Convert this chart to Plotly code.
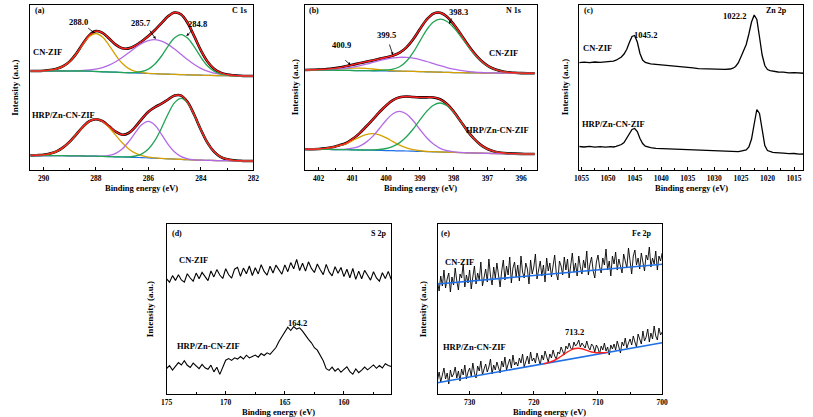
import plotly.graph_objects as go

# ---------------- (a) C 1s : fitted components (heights, arbitrary units) ----------------
c1s_be = [290.5, 290.25, 290.0, 289.75, 289.5, 289.25, 289.0, 288.75, 288.5, 288.25, 288.0, 287.75,
          287.5, 287.25, 287.0, 286.75, 286.5, 286.25, 286.0, 285.75, 285.5, 285.25, 285.0, 284.75,
          284.5, 284.25, 284.0, 283.75, 283.5, 283.25, 283.0, 282.75, 282.5, 282.25, 282.0]
c1s_cn_base = [99.0, 99.0, 99.0, 99.0, 99.0, 99.0, 99.0, 99.0, 99.0, 98.8, 98.5, 98.2, 98.0, 97.8, 97.5,
               97.2, 97.0, 96.8, 96.5, 96.3, 96.0, 95.8, 95.6, 95.4, 95.2, 95.0, 94.8, 94.6, 94.5, 94.4,
               94.3, 94.2, 94.1, 94.0, 94.0]
c1s_cn_288 = [0, 0, 0.3, 0.9, 2.2, 4.8, 9.5, 17.1, 26.7, 34.8, 38.0, 34.8, 26.7, 17.1, 9.2, 4.2, 1.6, 0.5,
              0.1, 0, 0, 0, 0, 0, 0, 0, 0, 0, 0, 0, 0, 0, 0, 0, 0]
c1s_cn_2857 = [0, 0, 0, 0, 0, 0, 0.1, 0.3, 0.6, 1.3, 2.4, 4.2, 6.8, 10.5, 15.0, 20.1, 25.3, 29.8, 32.9,
               34.0, 32.9, 29.8, 25.3, 20.1, 15.0, 10.5, 6.8, 4.2, 2.4, 1.3, 0.6, 0.3, 0.1, 0, 0]
c1s_cn_2848 = [0, 0, 0, 0, 0, 0, 0, 0, 0, 0, 0, 0, 0, 0, 0, 0.1, 0.5, 1.7, 4.4, 9.7, 18.0, 28.1, 36.6,
               40.0, 36.6, 28.1, 18.0, 9.7, 4.4, 1.7, 0.5, 0.1, 0, 0, 0]
c1s_hrp_base = [14.5, 14.5, 14.4, 14.4, 14.3, 14.3, 14.2, 14.1, 14.0, 13.9, 13.8, 13.6, 13.4, 13.2, 13.0,
                12.8, 12.6, 12.4, 12.1, 11.8, 11.5, 11.2, 10.9, 10.6, 10.3, 10.0, 9.8, 9.6, 9.5, 9.4,
                9.3, 9.2, 9.1, 9.0, 9.0]
c1s_hrp_288 = [0.1, 0.3, 0.8, 2.0, 4.3, 8.3, 14.2, 21.6, 29.1, 34.9, 37.0, 34.9, 29.1, 21.6, 14.2, 8.3,
               4.3, 2.0, 0.8, 0.3, 0.1, 0, 0, 0, 0, 0, 0, 0, 0, 0, 0, 0, 0, 0, 0]
c1s_hrp_286 = [0, 0, 0, 0, 0, 0, 0, 0, 0, 0, 0, 0.3, 1.2, 3.5, 8.0, 15.5, 24.8, 33.0, 36.5, 33.0, 24.2,
               14.5, 7.1, 2.8, 0.9, 0.2, 0, 0, 0, 0, 0, 0, 0, 0, 0]
c1s_hrp_2848 = [0, 0, 0, 0, 0, 0, 0, 0, 0, 0, 0, 0, 0, 0, 0.1, 0.4, 1.4, 3.8, 8.9, 17.8, 30.5, 44.8,
                56.5, 61.0, 56.5, 44.8, 30.5, 17.8, 8.9, 3.8, 1.4, 0.4, 0.1, 0, 0]

# ---------------- (b) N 1s ----------------
n1s_be = [402.4, 402.2, 402.0, 401.8, 401.6, 401.4, 401.2, 401.0, 400.8, 400.6, 400.4, 400.2, 400.0,
          399.8, 399.6, 399.4, 399.2, 399.0, 398.8, 398.6, 398.4, 398.2, 398.0, 397.8, 397.6, 397.4,
          397.2, 397.0, 396.8, 396.6, 396.4, 396.2, 396.0, 395.8, 395.6]
n1s_cn_base = [100.0, 100.0, 99.9, 99.9, 99.8, 99.7, 99.6, 99.5, 99.4, 99.3, 99.2, 99.1, 99.0, 98.9,
               98.8, 98.7, 98.6, 98.4, 98.2, 98.0, 97.8, 97.6, 97.4, 97.3, 97.2, 97.1, 97.0, 96.9,
               96.9, 96.8, 96.8, 96.8, 96.7, 96.7, 96.7]
n1s_cn_4009 = [0, 0.06, 0.15, 0.4, 0.7, 1.25, 1.8, 2.3, 2.5, 2.3, 1.8, 1.25, 0.7, 0.4, 0.15, 0.06, 0, 0,
               0, 0, 0, 0, 0, 0, 0, 0, 0, 0, 0, 0, 0, 0, 0, 0, 0]
n1s_cn_3995 = [0.07, 0.14, 0.3, 0.5, 0.9, 1.4, 2.3, 3.4, 4.8, 6.5, 8.4, 10.3, 12.0, 13.2, 13.9, 13.9,
               13.2, 12.0, 10.3, 8.4, 6.5, 4.8, 3.4, 2.3, 1.4, 0.9, 0.5, 0.3, 0.14, 0.07, 0, 0, 0, 0, 0]
n1s_cn_3983 = [0, 0, 0, 0, 0, 0, 0, 0, 0.05, 0.1, 0.2, 0.5, 1.0, 2.0, 4.5, 10.0, 19.0, 30.5, 42.0,
               50.0, 53.0, 50.9, 45.0, 36.7, 27.6, 19.1, 12.2, 7.2, 3.9, 2.0, 0.9, 0.4, 0.15, 0, 0]
n1s_hrp_base = [20.7, 20.7, 20.6, 20.6, 20.5, 20.4, 20.3, 20.2, 20.0, 19.9, 19.8, 19.6, 19.4, 19.3,
                19.1, 19.0, 18.8, 18.6, 18.4, 18.2, 18.0, 17.8, 17.6, 17.4, 17.2, 17.0, 16.8, 16.6,
                16.5, 16.4, 16.3, 16.2, 16.1, 16.0, 16.0]
n1s_hrp_4005 = [0, 0.08, 0.4, 1.0, 2.2, 4.0, 5.8, 9.1, 12.7, 15.5, 16.5, 15.5, 12.7, 9.1, 5.8, 3.2,
                1.55, 0.66, 0.25, 0.08, 0, 0, 0, 0, 0, 0, 0, 0, 0, 0, 0, 0, 0, 0, 0]
n1s_hrp_3995 = [0, 0, 0, 0, 0, 0.2, 0.6, 1.6, 3.7, 7.7, 13.8, 21.9, 30.4, 37.0, 39.5, 37.0, 30.4, 21.9,
                13.8, 7.7, 3.7, 1.6, 0.6, 0.2, 0, 0, 0, 0, 0, 0, 0, 0, 0, 0, 0]
n1s_hrp_3983 = [0, 0, 0, 0, 0, 0, 0, 0, 0, 0.13, 0.35, 0.9, 2.1, 4.4, 8.3, 14.3, 22.2, 31.5, 40.2, 46.6,
                49.0, 46.6, 40.2, 31.5, 22.2, 14.3, 8.3, 4.4, 2.1, 0.9, 0.35, 0.13, 0, 0, 0]

# ---------------- (c) Zn 2p ----------------
zn_be = [1055.5, 1054.5, 1053.5, 1052.5, 1051.5, 1050.5, 1049.5,
         1049.0, 1048.5, 1048.0, 1047.5, 1047.0, 1046.5, 1046.0, 1045.5, 1045.0, 1044.5, 1044.0, 1043.5,
         1043.0, 1042.5, 1042.0,
         1041.0, 1040.0, 1039.0, 1038.0, 1037.0, 1036.0, 1035.0, 1034.0, 1033.0, 1032.0, 1031.0, 1030.0,
         1029.0, 1028.0, 1027.0,
         1026.5, 1026.0, 1025.5, 1025.0, 1024.5, 1024.0, 1023.5, 1023.0, 1022.5, 1022.0, 1021.5, 1021.0,
         1020.5, 1020.0, 1019.5, 1019.0, 1018.5,
         1018.0, 1017.0, 1016.0, 1015.0, 1014.0, 1013.0]
zn_cn = [107.3, 107.8, 107.4, 108.0, 107.6, 108.2, 108.4,
         108.9, 109.8, 111.2, 113.0, 116.0, 120.5, 127.5, 133.5, 134.5, 128.0, 116.5, 110.0, 107.6, 106.8, 106.2,
         105.6, 105.2, 104.5, 104.2, 103.4, 103.0, 102.6, 102.2, 101.4, 101.2, 100.9, 100.5, 100.3, 100.6, 101.0,
         101.8, 103.5, 107.0, 113.0, 119.5, 125.5, 136.0, 148.0, 155.0, 150.5, 133.0, 115.0, 104.5, 100.5, 99.4,
         98.9, 98.6,
         98.0, 97.8, 97.2, 97.4, 96.8, 96.7]
zn_hrp = [23.5, 23.0, 23.6, 22.9, 23.4, 22.8, 23.3,
          23.0, 23.6, 24.2, 25.5, 27.5, 32.0, 37.0, 40.5, 41.5, 38.5, 31.5, 26.5, 23.8, 22.7, 22.3,
          21.6, 21.4, 20.8, 20.9, 20.2, 20.4, 19.8, 19.6, 19.9, 19.2, 19.4, 18.8, 19.0, 18.5, 18.7,
          18.3, 18.6, 18.4, 18.9, 19.2, 20.0, 23.0, 31.0, 46.0, 60.5, 56.5, 38.0, 24.5, 19.5, 18.2, 17.6, 17.4,
          17.0, 16.8, 16.3, 16.5, 15.9, 16.0]

# ---------------- (d) S 2p ----------------
s2p_be = [175.0, 174.75, 174.5, 174.25, 174.0, 173.75, 173.5, 173.25, 173.0, 172.75,
          172.5, 172.25, 172.0, 171.75, 171.5, 171.25, 171.0, 170.75, 170.5, 170.25,
          170.0, 169.75, 169.5, 169.25, 169.0, 168.75, 168.5, 168.25, 168.0, 167.75,
          167.5, 167.25, 167.0, 166.75, 166.5, 166.25, 166.0, 165.75, 165.5, 165.25,
          165.0, 164.75, 164.5, 164.25, 164.0, 163.75, 163.5, 163.25, 163.0, 162.75,
          162.5, 162.25, 162.0, 161.75, 161.5, 161.25, 161.0, 160.75, 160.5, 160.25,
          160.0, 159.75, 159.5, 159.25, 159.0, 158.75, 158.5, 158.25, 158.0, 157.75,
          157.5, 157.25, 157.0, 156.75, 156.5, 156.25, 156.0]
s2p_cn = [115.2, 111.8, 118.4, 113.6, 119.3, 114.1, 111.9, 120.2, 116.0, 112.8,
          120.9, 115.3, 121.6, 117.2, 113.4, 123.0, 117.1, 124.4, 119.0, 115.5,
          125.3, 119.2, 115.8, 124.8, 126.6, 117.7, 125.9, 120.2, 128.0, 118.5,
          126.2, 120.1, 129.3, 122.6, 118.9, 127.8, 121.0, 128.9, 124.4, 119.8,
          129.1, 122.3, 131.4, 125.2, 134.6, 123.5, 130.8, 122.9, 132.2, 125.6,
          121.5, 130.0, 124.2, 119.4, 129.6, 122.1, 118.2, 127.3, 120.7, 126.5,
          117.4, 124.7, 116.2, 125.5, 114.6, 122.9, 115.3, 123.6, 118.8, 113.9,
          122.2, 116.0, 112.9, 121.3, 115.4, 122.6, 114.5]
s2p_hrp = [25.5, 28.3, 23.9, 27.6, 31.4, 29.0, 33.2, 28.7, 26.5, 30.9,
           27.8, 25.4, 29.6, 26.2, 24.8, 28.9, 22.1, 26.7, 19.6, 27.3,
           33.8, 35.4, 33.6, 36.2, 34.9, 37.5, 35.0, 38.8, 36.1, 37.6,
           38.9, 36.8, 40.4, 38.5, 41.2, 39.6, 42.8, 46.5, 52.6, 57.4,
           61.3, 66.8, 63.5, 67.4, 64.9, 66.2, 62.8, 58.4, 54.6, 51.2,
           46.3, 43.8, 38.5, 33.2, 25.4, 23.6, 26.8, 22.9, 25.5, 21.7,
           24.6, 27.2, 22.4, 19.8, 25.1, 21.3, 23.9, 27.0, 24.2, 26.8,
           29.1, 25.7, 28.4, 26.0, 30.2, 28.6, 27.5]

# ---------------- (e) Fe 2p ----------------
fe_be = [735.0, 734.75, 734.5, 734.25, 734.0, 733.75, 733.5, 733.25, 733.0, 732.75,
         732.5, 732.25, 732.0, 731.75, 731.5, 731.25, 731.0, 730.75, 730.5, 730.25,
         730.0, 729.75, 729.5, 729.25, 729.0, 728.75, 728.5, 728.25, 728.0, 727.75,
         727.5, 727.25, 727.0, 726.75, 726.5, 726.25, 726.0, 725.75, 725.5, 725.25,
         725.0, 724.75, 724.5, 724.25, 724.0, 723.75, 723.5, 723.25, 723.0, 722.75,
         722.5, 722.25, 722.0, 721.75, 721.5, 721.25, 721.0, 720.75, 720.5, 720.25,
         720.0, 719.75, 719.5, 719.25, 719.0, 718.75, 718.5, 718.25, 718.0, 717.75,
         717.5, 717.25, 717.0, 716.75, 716.5, 716.25, 716.0, 715.75, 715.5, 715.25,
         715.0, 714.75, 714.5, 714.25, 714.0, 713.75, 713.5, 713.25, 713.0, 712.75,
         712.5, 712.25, 712.0, 711.75, 711.5, 711.25, 711.0, 710.75, 710.5, 710.25,
         710.0, 709.75, 709.5, 709.25, 709.0, 708.75, 708.5, 708.25, 708.0, 707.75,
         707.5, 707.25, 707.0, 706.75, 706.5, 706.25, 706.0, 705.75, 705.5, 705.25,
         705.0, 704.75, 704.5, 704.25, 704.0, 703.75, 703.5, 703.25, 703.0, 702.75,
         702.5, 702.25, 702.0, 701.75, 701.5, 701.25, 701.0, 700.75, 700.5, 700.25,
         700.0]
fe_cn = [112, 103, 118, 108, 124, 106, 115, 121, 102, 117,
         109, 126, 113, 104, 120, 116, 130, 107, 119, 111,
         124, 105, 117, 128, 110, 121, 114, 132, 108, 119,
         125, 112, 135, 118, 109, 127, 116, 131, 121, 107,
         123, 134, 114, 128, 119, 137, 111, 126, 132, 117,
         129, 113, 138, 122, 116, 131, 125, 110, 134, 120,
         127, 140, 115, 124, 133, 118, 129, 112, 136, 123,
         131, 117, 126, 139, 121, 114, 133, 128, 119, 137,
         124, 135, 116, 129, 141, 122, 131, 118, 138, 127,
         120, 134, 126, 143, 119, 130, 137, 123, 116, 132,
         139, 127, 121, 136, 129, 145, 124, 133, 118, 138,
         130, 142, 124, 135, 128, 121, 140, 133, 126, 146,
         131, 120, 138, 144, 129, 136, 125, 141, 132, 123,
         139, 134, 147, 127, 136, 130, 143, 124, 138, 133,
         141]
fe_hrp = [14, 22, 12, 19, 26, 15, 21, 10, 24, 17,
          20, 27, 16, 23, 13, 25, 19, 29, 15, 22,
          26, 18, 31, 21, 16, 28, 23, 33, 19, 25,
          30, 22, 27, 35, 20, 29, 24, 32, 26, 21,
          33, 27, 37, 24, 30, 35, 26, 39, 29, 32,
          28, 36, 31, 40, 27, 34, 38, 30, 42, 33,
          36, 31, 41, 35, 29, 39, 34, 43, 37, 32,
          40, 36, 44, 38, 35, 42, 40, 47, 43, 39,
          48, 45, 51, 46, 44, 52, 48, 50, 54, 47,
          51, 49, 46, 53, 47, 44, 50, 48, 42, 49,
          46, 40, 48, 44, 51, 43, 47, 39, 49, 45,
          50, 44, 53, 47, 41, 52, 48, 56, 46, 51,
          55, 49, 58, 52, 47, 60, 54, 50, 63, 53,
          57, 65, 52, 61, 55, 68, 58, 54, 66, 59,
          62]
fe_base_be = [735.0, 700.0]
fe_cn_base = [110.0, 129.7]
fe_hrp_base = [11.3, 51.3]
fe_fit_be = [718.5, 718.0, 717.5, 717.0, 716.5, 716.0, 715.5, 715.0, 714.5, 714.0, 713.5, 713.0,
             712.5, 712.0, 711.5, 711.0, 710.5, 710.0, 709.5, 709.0, 708.5]
fe_fit = [30.1, 30.9, 31.8, 33.0, 34.6, 36.6, 38.8, 41.0, 43.0, 44.6, 45.5, 45.7,
          45.2, 44.2, 43.0, 42.0, 41.4, 41.2, 41.2, 41.4, 41.6]

# ---------------- figure ----------------
W, H = 813, 417
FONT = "Liberation Serif"
RED, GREEN, PURPLE, ORANGE, BLUE = "#ff1f1f", "#22a455", "#b36ae6", "#d6a100", "#1f6fe5"

fig = go.Figure()


def add(x, y, color, width, s, shape="linear"):
    fig.add_trace(go.Scatter(x=x, y=y, mode="lines", line=dict(color=color, width=width, shape=shape),
                             xaxis="x" + s, yaxis="y" + s, showlegend=False, hoverinfo="skip"))


def fit_panel(be, base, comps, s):
    total = [b + sum(c[i] for c in comps) for i, b in enumerate(base)]
    add(be, total, "black", 2.6, s, "spline")
    add(be, base, BLUE, 1.2, s, "spline")
    for comp, col in zip(comps, [ORANGE, PURPLE, GREEN]):
        add(be, [b + v for b, v in zip(base, comp)], col, 1.3, s, "spline")
    add(be, total, RED, 1.4, s, "spline")


fit_panel(c1s_be, c1s_cn_base, [c1s_cn_288, c1s_cn_2857, c1s_cn_2848], "")
fit_panel(c1s_be, c1s_hrp_base, [c1s_hrp_288, c1s_hrp_286, c1s_hrp_2848], "")
fit_panel(n1s_be, n1s_cn_base, [n1s_cn_4009, n1s_cn_3995, n1s_cn_3983], "2")
fit_panel(n1s_be, n1s_hrp_base, [n1s_hrp_4005, n1s_hrp_3995, n1s_hrp_3983], "2")

add(zn_be, zn_cn, "black", 1.3, "3")
add(zn_be, zn_hrp, "black", 1.3, "3")

add(s2p_be, s2p_cn, "black", 1.1, "4")
add(s2p_be, s2p_hrp, "black", 1.1, "4")

add(fe_be, fe_cn, "black", 0.9, "5")
add(fe_be, fe_hrp, "black", 0.9, "5")
add(fe_base_be, fe_cn_base, BLUE, 1.6, "5")
add(fe_base_be, fe_hrp_base, BLUE, 1.6, "5")
add(fe_fit_be, fe_fit, RED, 1.4, "5", "spline")

panels = [
    ("", 24, 251, 5, 170, [290.53, 282.0], 2, 1, [0, 165]),
    ("2", 303, 539, 5, 170, [402.42, 395.53], 1, 0.5, [0, 165]),
    ("3", 582, 809, 5, 170, [1055.4, 1013.3], 5, 2.5, [0, 165]),
    ("4", 163, 391, 224, 394, [175.0, 156.0], 5, 2.5, [0, 170]),
    ("5", 438, 666, 224, 394, [735.0, 700.0], 10, 5, [0, 170]),
]
tickfont = dict(family=FONT, size=7.5, color="black", weight="bold")
lay = {}
for s, x0, x1, y0, y1, xr, dt, mdt, yr in panels:
    lay["xaxis" + s] = dict(domain=[x0 / W, x1 / W], range=xr, anchor="y" + s, showline=True,
                            linecolor="black", linewidth=1, mirror=True, showgrid=False, zeroline=False,
                            ticks="inside", ticklen=3, tickwidth=1, tickcolor="black", tick0=0, dtick=dt,
                            tickfont=tickfont, ticklabelstandoff=1,
                            minor=dict(ticks="inside", ticklen=2, tickcolor="black", dtick=mdt,
                                       showgrid=False))
    lay["yaxis" + s] = dict(domain=[1 - y1 / H, 1 - y0 / H], range=yr, anchor="x" + s, showline=True,
                            linecolor="black", linewidth=1, mirror=True, showgrid=False, zeroline=False,
                            ticks="", showticklabels=False)
fig.update_layout(width=W, height=H, margin=dict(l=0, r=0, t=0, b=0), plot_bgcolor="white",
                  paper_bgcolor="white", showlegend=False, **lay)


def txt(t, xp, yp, size=8.5, xanchor="center", angle=0):
    fig.add_annotation(text=t, x=xp / W, y=1 - yp / H, xref="paper", yref="paper", showarrow=False,
                       font=dict(family=FONT, size=size, color="black", weight="bold"),
                       xanchor=xanchor, yanchor="middle", textangle=angle)


# panel tags and element names
for t, xl, tr, xr_, yy in [("(a)", 27, "C 1s", 247, 10.7), ("(b)", 306, "N 1s", 525, 10.7),
                           ("(c)", 585, "Zn 2p", 795, 10.7), ("(d)", 166, "S 2p", 388, 233),
                           ("(e)", 439, "Fe 2p", 657, 233)]:
    txt(t, xl, yy, 8, "left")
    txt(tr, xr_, yy, 8, "right")

# sample names
for xp, yp in [(41.7, 51.7), (504.6, 53.3), (600, 48.3), (190.5, 260), (460, 261.7)]:
    txt("CN-ZIF", xp, yp, 8.5)
for xp, yp in [(58, 115), (499, 130), (617, 124), (206, 345.7), (475.5, 346.7)]:
    txt("HRP/Zn-CN-ZIF", xp, yp, 8.5)

# peak labels
for t, xp, yp in [("288.0", 74, 21.7), ("285.7", 137.5, 23), ("284.8", 194, 24),
                  ("398.3", 459, 11.7), ("399.5", 386, 35), ("400.9", 341, 45),
                  ("1045.2", 649, 35), ("1022.2", 739, 16), ("164.2", 296, 323), ("713.2", 576.7, 332.3)]:
    txt(t, xp, yp, 8.5)

# axis titles
for xp, yp in [(137.5, 188), (421, 188), (695.5, 188), (277, 411.5), (552, 411.5)]:
    txt("Binding energy (eV)", xp, yp, 8.5)
for xp, yp in [(8.3, 87.5), (293, 87.5), (567, 87.5), (146.5, 309), (423.5, 309)]:
    txt("Intensity (a.u.)", xp, yp, 9, "center", -90)

# arrows pointing at the fitted peaks
for s, xv, yv, axp, ayp in [("", 288.05, 137, -8, -6), ("", 285.72, 131, -7, -10), ("", 284.55, 134, 7, -7),
                            ("2", 398.13, 146, 3, -7), ("2", 399.8, 115, -4, -12), ("2", 401.05, 105, -7, -6)]:
    fig.add_annotation(text="", x=xv, y=yv, xref="x" + s, yref="y" + s, showarrow=True, ax=axp, ay=ayp,
                       arrowhead=2, arrowsize=0.7, arrowwidth=0.8, arrowcolor="black", standoff=0)

fig.write_html("out.html")
